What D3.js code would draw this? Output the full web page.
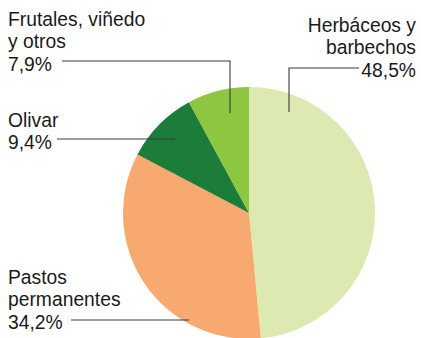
<!DOCTYPE html>
<html>
<head>
<meta charset="utf-8">
<script src="https://cdn.jsdelivr.net/npm/d3@7"></script>
<style>
  html, body { margin: 0; padding: 0; background: #fff; }
  svg { display: block; }
  text { font-family: "Liberation Sans", Arial, sans-serif; font-size: 19.3px; fill: #1a1a1a; }
</style>
</head>
<body>
<svg id="chart" width="421" height="338"></svg>
<script>
// Land use shares (%), clockwise from 12 o'clock
const categories = ["Herbáceos y barbechos", "Pastos permanentes", "Olivar", "Frutales, viñedo y otros"];
const values = [48.5, 34.2, 9.4, 7.9];
const colors = ["#dce9b0", "#f7a970", "#1c7c39", "#8dc63f"];

// Label text lines (the value is appended as the last line)
const labelLines = [
  ["Herbáceos y", "barbechos"],
  ["Pastos", "permanentes"],
  ["Olivar"],
  ["Frutales, viñedo", "y otros"]
];

const fmt = v => d3.format(".1f")(v).replace(".", ",") + "%";

const svg = d3.select("#chart");
const cx = 249, cy = 213, radius = 126;

const pie = d3.pie().sort(null).value(d => d.value);
const arc = d3.arc().innerRadius(0).outerRadius(radius);

const data = categories.map((c, i) => ({ name: c, value: values[i], color: colors[i], lines: labelLines[i] }));
const arcs = pie(data);

const g = svg.append("g").attr("transform", `translate(${cx},${cy})`);
g.selectAll("path")
  .data(arcs)
  .join("path")
  .attr("d", arc)
  .attr("fill", d => d.data.color);

// Label layout: text anchor, baseline of first line, and leader polyline
const lineH = 22.3;
const layout = [
  { x: 416, y: 32,  anchor: "end",   leader: [[359, 68], [289, 68], [289, 112]] },
  { x: 8,   y: 284, anchor: "start", leader: [[71, 320], [189, 320]] },
  { x: 8,   y: 127, anchor: "start", leader: [[57, 139], [175, 139]] },
  { x: 8,   y: 26,  anchor: "start", leader: [[62, 61], [230, 61], [230, 113]] }
];

arcs.forEach((a, i) => {
  const L = layout[i];
  const lines = a.data.lines.concat([fmt(a.data.value)]);
  const t = svg.append("text")
    .attr("x", L.x)
    .attr("y", L.y)
    .attr("text-anchor", L.anchor);
  lines.forEach((s, j) => {
    t.append("tspan").attr("x", L.x).attr("y", L.y + j * lineH).text(s);
  });
  svg.append("path")
    .attr("d", d3.line()(L.leader))
    .attr("fill", "none")
    .attr("stroke", "#3a3a3a")
    .attr("stroke-width", 1.1);
});
</script>
</body>
</html>
